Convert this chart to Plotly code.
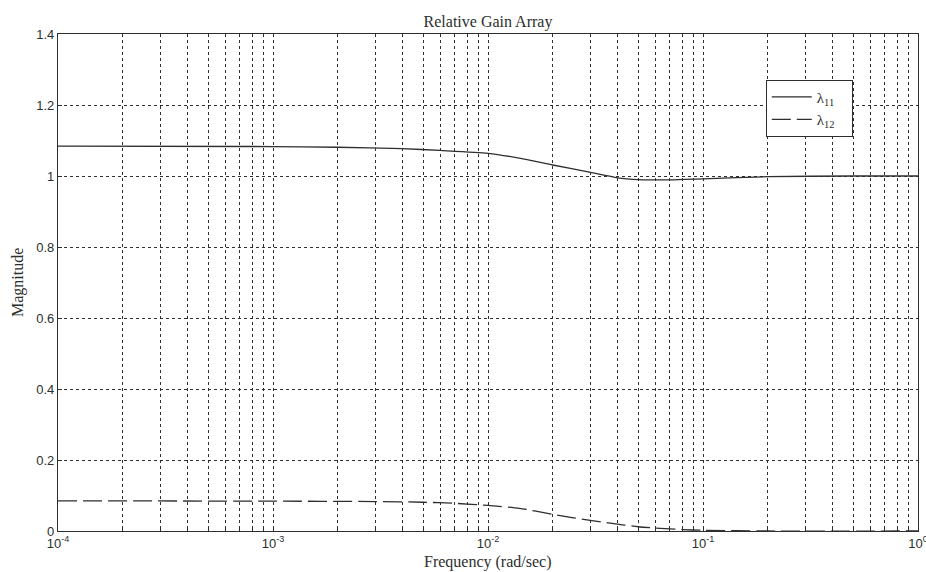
import plotly.graph_objects as go

# ---- data ----
freq_11 = [1e-4, 1e-3, 2e-3, 4e-3, 6e-3, 1e-2, 1.5e-2, 2e-2, 3e-2, 4e-2, 5e-2, 7e-2, 1e-1, 2e-1, 5e-1, 1.0]
lambda_11 = [1.084, 1.083, 1.081, 1.077, 1.072, 1.064, 1.047, 1.031, 1.010, 0.995, 0.990, 0.989, 0.992, 0.998, 1.0, 1.0]

freq_12 = [1e-4, 1e-3, 3e-3, 5e-3, 7e-3, 1e-2, 1.4e-2, 2e-2, 2.5e-2, 3.7e-2, 5e-2, 8e-2, 1e-1, 2e-1, 1.0]
lambda_12 = [0.085, 0.084, 0.083, 0.081, 0.078, 0.072, 0.064, 0.047, 0.037, 0.022, 0.012, 0.004, 0.002, 0.0, 0.0]

decade_exponents = [-4, -3, -2, -1, 0]
minor_multipliers = [2, 3, 4, 5, 6, 7, 8, 9]
y_ticks = [0, 0.2, 0.4, 0.6, 0.8, 1, 1.2, 1.4]
y_ticktext = ["0", "0.2", "0.4", "0.6", "0.8", "1", "1.2", "1.4"]

x_tickvals = [10.0 ** e for e in decade_exponents]
x_ticktext = [f"10<sup>{e}</sup>" for e in decade_exponents]
x_minor = [m * 10.0 ** e for e in decade_exponents[:-1] for m in minor_multipliers]

INK = "#2b2f2d"
SERIF = "Liberation Serif, Times New Roman, serif"
SANS = "Liberation Sans, Arial, sans-serif"

fig = go.Figure()
fig.add_trace(go.Scatter(
    x=freq_11, y=lambda_11, mode="lines", name="λ<sub>11</sub>&nbsp;&nbsp;&nbsp;",
    line=dict(color=INK, width=1.3, shape="spline", smoothing=0.6),
))
fig.add_trace(go.Scatter(
    x=freq_12, y=lambda_12, mode="lines", name="λ<sub>12</sub>&nbsp;&nbsp;&nbsp;",
    line=dict(color=INK, width=1.3, dash="19px,6px", shape="spline", smoothing=0.6),
))

fig.update_layout(
    width=926, height=572,
    margin=dict(l=58, r=8, t=34, b=41, autoexpand=False),
    paper_bgcolor="white", plot_bgcolor="white",
    title=dict(text="Relative Gain Array", x=0.527, xanchor="center",
               y=0.963, yanchor="middle", yref="container", automargin=False,
               font=dict(family=SERIF, size=16, color=INK)),
    showlegend=True,
    legend=dict(x=0.823, y=0.908, xanchor="left", yanchor="top",
                bgcolor="white", bordercolor=INK, borderwidth=1,
                font=dict(family=SERIF, size=15, color=INK),
                itemwidth=40, tracegroupgap=0),
    annotations=[
        dict(text="Frequency (rad/sec)", xref="paper", yref="paper", x=0.5, y=-0.062,
             xanchor="center", yanchor="middle", showarrow=False,
             font=dict(family=SERIF, size=16, color=INK)),
        dict(text="Magnitude", xref="paper", yref="paper", x=-0.047, y=0.5,
             xanchor="center", yanchor="middle", showarrow=False, textangle=-90,
             font=dict(family=SERIF, size=16, color=INK)),
    ],
)

fig.update_xaxes(
    type="log", range=[-4, 0], automargin=False,
    tickmode="array", tickvals=x_tickvals, ticktext=x_ticktext,
    tickfont=dict(family=SANS, size=13, color=INK), ticklabeloverflow="allow",
    showgrid=True, gridcolor=INK, griddash="dot", gridwidth=1,
    ticks="inside", ticklen=4, tickcolor=INK,
    minor=dict(tickmode="array", tickvals=x_minor, showgrid=True, gridcolor=INK,
               griddash="dot", gridwidth=1, ticks="inside", ticklen=3, tickcolor=INK),
    showline=True, linecolor=INK, linewidth=1.2, mirror=True,
    zeroline=False,
)
fig.update_yaxes(
    range=[0, 1.4], automargin=False,
    tickmode="array", tickvals=y_ticks, ticktext=y_ticktext,
    tickfont=dict(family=SANS, size=13, color=INK),
    showgrid=True, gridcolor=INK, griddash="dot", gridwidth=1,
    ticks="inside", ticklen=4, tickcolor=INK,
    showline=True, linecolor=INK, linewidth=1.2, mirror=True,
    zeroline=False,
)

fig.write_html(
    "out.html",
    config={"displayModeBar": False},
    post_script="document.body.style.margin='0';document.body.style.overflow='hidden';",
)
